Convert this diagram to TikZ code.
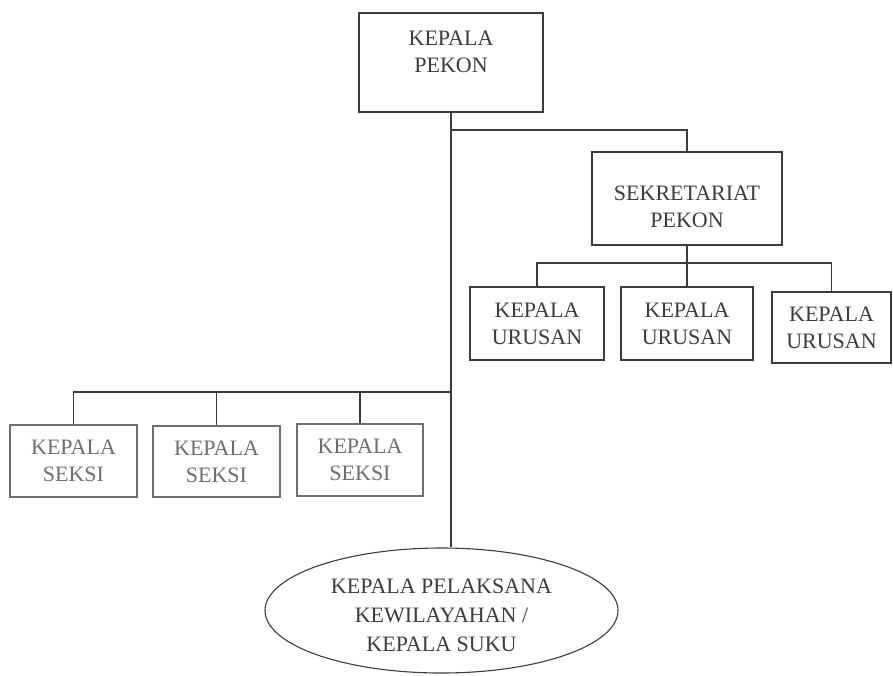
\documentclass[tikz,border=0pt]{standalone}
\usepackage{fontspec}
\setmainfont{Liberation Serif}
\usetikzlibrary{shapes.geometric}
\definecolor{ink}{HTML}{3C3C3C}
\definecolor{inkpale}{HTML}{6E6E6E}
\tikzset{
  orgbox/.style={draw=ink, line width=1.1pt, text=ink, align=center,
    font=\fontsize{22}{27}\selectfont, inner sep=0pt},
  palebox/.style={orgbox, draw=inkpale, text=inkpale},
  boxtext/.style={text=ink, align=center, font=\fontsize{22}{27}\selectfont, inner sep=0pt},
  link/.style={draw=ink, line width=1.1pt},
}
\begin{document}
\begin{tikzpicture}[x=1pt,y=-1pt]
  \useasboundingbox (0,0) rectangle (893,675);

  % head of the village (text sits in the upper part of the box)
  \node[orgbox, minimum width=184pt, minimum height=99pt] (kp) at (451,62.5) {};
  \node[boxtext] (kpt) at ([yshift=11pt]kp.center) {KEPALA\\PEKON};

  % secretariat (text sits low in the box) and its affairs heads
  \node[orgbox, minimum width=190pt, minimum height=93pt] (sp) at (687,198.5) {};
  \node[boxtext] (spt) at ([yshift=-8pt]sp.center) {SEKRETARIAT\\PEKON};
  \node[orgbox, minimum width=134pt, minimum height=73pt] (u1) at (537,323.5) {KEPALA\\URUSAN};
  \node[orgbox, minimum width=132pt, minimum height=73pt] (u2) at (687,323.5) {KEPALA\\URUSAN};
  \node[orgbox, minimum width=119pt, minimum height=71pt] (u3) at (831.5,327.5) {KEPALA\\URUSAN};

  % section heads
  \node[palebox, minimum width=127pt, minimum height=72pt] (s1) at (73.5,461) {KEPALA\\SEKSI};
  \node[palebox, minimum width=127pt, minimum height=71pt] (s2) at (216.5,461.5) {KEPALA\\SEKSI};
  \node[palebox, minimum width=126pt, minimum height=72pt] (s3) at (360,460) {KEPALA\\SEKSI};

  % regional executive / tribal head
  \node[ellipse, draw=ink, line width=1.1pt, minimum width=353pt, minimum height=125pt,
    inner sep=0pt] (ks) at (441.5,610.5) {};
  \node[boxtext, font=\fontsize{22}{29}\selectfont] (kst) at ([yshift=-5pt]ks.center)
    {KEPALA PELAKSANA\\KEWILAYAHAN /\\KEPALA SUKU};

  % junction points on the main trunk
  \coordinate (j1) at (kp.south |- 0,130);
  \coordinate (j2) at (kp.south |- 0,392);
  \coordinate (j3) at (sp.south |- 0,263);

  % main trunk
  \draw[link] (kp.south) -- (kp.south |- ks.north);

  % branch to the secretariat
  \draw[link] (j1) -| (sp.north);

  % secretariat to affairs heads
  \draw[link] (sp.south) -- (j3);
  \draw[link] (u1.north) |- (j3) -| (u3.north);
  \draw[link] (j3) -- (u2.north);

  % trunk to section heads
  \draw[link] (j2) -| (s1.north);
  \draw[link] (s2.north) -- (s2.north |- j2);
  \draw[link] (s3.north) -- (s3.north |- j2);
\end{tikzpicture}
\end{document}
